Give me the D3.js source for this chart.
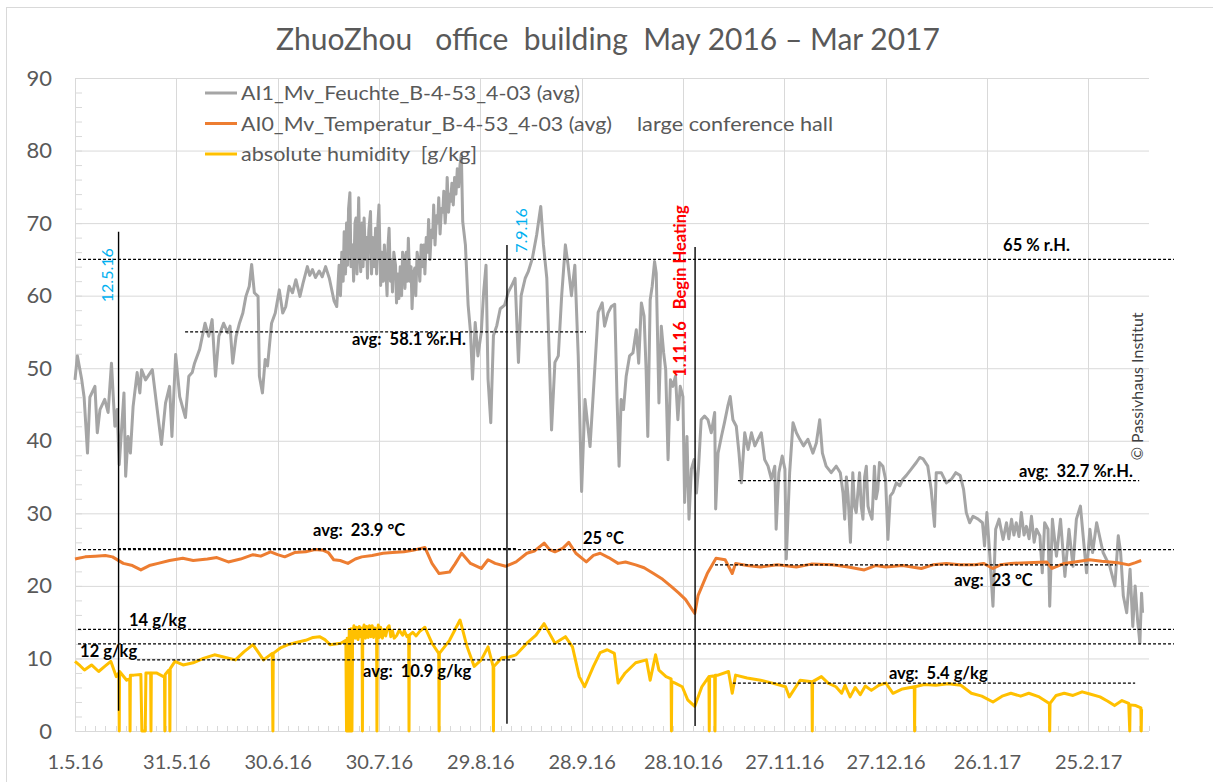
<!DOCTYPE html>
<html>
<head>
<meta charset="utf-8">
<script src="https://cdn.jsdelivr.net/npm/d3@7"></script>
<style>
  body { margin: 0; background: #fff; }
  text { font-family: Lato, "Open Sans", sans-serif; }
</style>
</head>
<body>
<div id="chart"></div>
<script>
// days since 1.5.16, value
var relHumidity = [
  [0,48.4],[0.7,51.7],[2,48.4],[2.7,46],[3.7,38.3],[4.4,46],[5.9,47.5],[6.6,41.1],[7.4,44.3],[8.8,45.7],
  [9.8,43.9],[10.8,50.7],[11.8,42],[12.5,44.3],[13.1,36.7],[14.5,46.6],[15,35.1],[15.7,40.6],[16.4,38.3],
  [17.2,44.7],[18.4,49.4],[19.2,46.6],[19.7,49.8],[20.9,48.4],[22.9,49.8],[24.1,45.2],[25.6,39.5],[26.8,45.2],
  [28,47.5],[28.7,40.6],[29.8,51.9],[31,46.1],[31.8,44.7],[32.7,43.2],[33.7,48.9],[34.7,49.4],[35.4,50.7],
  [36.9,52.6],[38.5,56.2],[39.6,54.4],[40.6,56.7],[41.6,48.9],[42.6,54.4],[44,56.2],[45.2,54.9],[45.9,55.8],
  [46.7,50.7],[47.7,54.4],[48.7,56.2],[49.7,57.6],[50.6,59.9],[51.6,61.3],[52.3,64.3],[53.1,60.4],[54.2,59.9],
  [54.6,48.9],[55.5,46.6],[56.3,51.2],[57,50.3],[58.2,56.2],[59.3,57.6],[60.5,60.8],[61.5,57.6],[62.4,58.5],
  [63.4,61.3],[64.4,60.4],[65.4,62.2],[66.6,59.9],[67.5,61.7],[68.8,64],[69.5,62.8],[70.3,63.6],[71.2,62.5],
  [72.3,63.4],[73.2,62.6],[74.2,64],[75.3,62.4],[76.7,59.3],[77.5,58.5],
  [78.2,64.2],[78.6,60],[79,66],[79.4,62],[79.7,68.8],[80.1,63],[80.4,70],[80.7,64.2],[81,72],[81.4,74.2],
  [81.7,64],[82.2,67],[82.5,62],[82.9,70],[83.2,70.7],[83.5,63],[84,73.5],[84.3,66],[84.6,63.3],[85,70],
  [85.3,64],[85.6,70.7],[86,65],[86.3,68],[86.6,62.4],[87,69],[87.5,71.6],[87.8,63],[88.2,68],[88.6,64],
  [89,69.3],[89.3,63],[89.7,70],[90,72.5],[90.5,61.4],[90.9,66],[91.3,62],[91.6,67],[92,64.2],[92.4,60],
  [92.7,67],[93,69.3],[93.4,62],[93.7,65],[94,60.5],[94.4,66],[94.9,64.2],[95.2,59],[95.6,63],[95.9,59.6],
  [96.3,64],[96.7,60],[97,66],[97.4,65.1],[97.7,61],[98.1,66],[98.4,62],[98.7,67.9],[99.1,62],[99.5,64],
  [99.8,58.2],[100.2,63],[100.6,63.8],[100.9,60],[101.3,66],[101.8,64.2],[102.1,62],[102.5,67],[102.9,64],
  [103.3,67],[103.6,63],[104,68],[104.4,66],[104.7,70.5],[105.1,65],[105.5,69],[105.9,68],[106.2,72.5],
  [106.6,67],[107,71],[107.4,70],[107.7,73.5],[108.1,68.5],[108.5,72],[108.9,71.5],[109.2,74.4],[109.6,70],
  [110,73],[110.2,76.3],[110.6,71.5],[111,74],[111.2,73],[111.6,75.5],[112,72.5],[112.4,76.3],[112.8,74],
  [113.2,77.5],[113.6,75],[114,78],[114.4,79.5],[114.8,70.2],[115.6,67],[116.4,58.7],[117.1,55],[117.7,48.5],
  [118.5,56.3],[119.3,51.7],[120.3,55],[121,60.5],[121.7,64.2],[122.3,48.5],[123.1,42.5],[123.9,54.5],
  [124.9,55.9],[125.9,58.2],[127.2,58.7],[128.3,60.5],[129.3,61.4],[130.3,62.4],[131.3,50.8],[132.1,60],
  [133.3,62.4],[134.2,63.3],[135.4,65.1],[136.7,68.4],[137.9,72.3],[138.7,67],[139.7,62.4],[141.1,41.5],
  [142.1,50.8],[143.1,51.7],[144.1,60],[145.2,67],[146,64.2],[147,60],[148,64.2],[149,51.7],[150,33],
  [151,45.7],[152.5,39.2],[153.9,49.9],[154.9,57.7],[156.1,59],[156.8,55.8],[157.8,57.6],[158.8,58.5],
  [159.8,58.8],[160.5,45.7],[161.1,36.5],[161.7,45.7],[162.4,44.3],[163.2,48.9],[164.2,51.7],[165.2,52.1],
  [166.2,55.3],[166.9,50.7],[167.7,59],[168.5,57.2],[169.1,49.8],[169.6,40.6],[170.3,59.4],[170.9,61.3],
  [171.6,64.7],[172.1,63.1],[172.9,45.2],[173.6,55.8],[174.3,52.1],[174.9,49.8],[175.6,37.4],[176.3,48.4],
  [177,47.5],[177.8,48.9],[178.5,42.9],[179.2,47.5],[180,46.1],[180.5,31.5],[181.2,40.6],[181.8,29.2],
  [182.5,36.1],[183.3,37.4],[184,32.8],[184.6,36.1],[185.4,42.9],[186.4,43.4],[187.4,42.9],[188.4,41.1],
  [189.4,43.9],[189.7,30.6],[190.4,38.3],[191.4,40.6],[192.3,42.5],[193.3,44.8],[194,46.1],[194.8,42.9],
  [195.8,42],[196.6,38.3],[197.3,34.2],[198.3,41.1],[199.3,38.8],[200.3,41.1],[201.3,39.3],[202.2,40.2],
  [203.2,41.1],[204.2,37.4],[205.2,36.5],[206.2,34.7],[207.2,36.5],[207.6,27.8],[208.4,35.6],[209.4,37.9],
  [210.2,36.1],[210.6,23.7],[211.6,35.6],[212.6,42.5],[213.6,41.1],[214.6,40.2],[215.7,39.3],[217,40.2],
  [218.5,38.3],[219.5,39.7],[220.5,42.9],[221.3,38.3],[222.4,36.5],[223.9,35.6],[225.4,36.5],[226.6,35.6],
  [227.4,32.8],[227.9,29.2],[228.4,35],[228.9,32.4],[229.6,26],[230.3,35.6],[230.8,31],[231.3,30.1],
  [232.3,35.6],[232.8,31],[233.3,29.2],[233.8,35],[234.3,36.5],[234.8,31],[235.3,30.1],[236,29.2],
  [236.7,36.5],[237.2,32],[237.7,33.3],[238.2,37],[239.2,36.5],[240,34.7],[240.7,26.4],[241.4,32.4],
  [242.2,32.9],[243.2,34.2],[244.2,33.8],[245.1,34.7],[246.1,35.2],[247.6,36.1],[249.1,37],[250.1,37.7],
  [251.1,37.5],[252.5,36.5],[253.5,33.3],[254.5,28.2],[255,35.6],[256.5,35.6],[258,34.2],[259.5,34.7],
  [260.8,35.6],[262.1,35.2],[263.1,33.3],[263.9,30.1],[264.9,28.7],[265.9,29.6],[267.4,29.2],[268.7,28.7],
  [269.3,25.5],[270,30.1],[271,23.2],[271.8,17.2],[272.6,27.8],[273.6,29.2],[274.8,26.4],[275.8,28.7],
  [276.5,26.5],[277.3,29.2],[278,27],[278.7,28.7],[279.5,26.8],[280.2,30.1],[281,27],[281.7,28.2],
  [282.5,26.5],[283.2,29.6],[284,26],[284.7,27.8],[285.7,26.9],[286.4,21.8],[287.1,28.7],[288.1,27.8],
  [288.6,17.2],[289.4,29.2],[290.6,24.1],[291.8,29.2],[293.1,21.3],[294.3,27.8],[295.5,22.7],[296.5,29.2],
  [297.7,31],[298.5,26.9],[299.5,21.8],[300.5,27.8],[301.3,24.6],[302.5,28.7],[304.4,24.6],[306.4,22.7],
  [307.9,20],[308.9,26.9],[309.6,24.6],[310.4,18.6],[311.4,16.3],[312.4,22.3],[313.2,14.4],[313.9,20],
  [314.6,15.4],[315.3,12.1],[315.8,19],[316.1,16.3]
];

var temperature = [
  [0,23.7],[3,24],[6,24.1],[9,24.2],[11.1,24],[14.3,23.1],[17,22.8],[19.5,22.2],[22,22.8],[24.6,23.1],
  [28,23.5],[31.9,23.8],[35,23.5],[39.2,23.7],[42,23.9],[45.4,23.3],[49,23.7],[52.7,24.3],[55,24.1],
  [57.9,24.7],[60,24.3],[62.1,24],[65,24.6],[68.3,24.7],[71,25],[73.5,24.9],[75,24.6],[76.6,23.6],
  [78.5,23.5],[80.8,23.1],[83,23.7],[84.9,24],[88,24.2],[91.2,24.5],[94,24.6],[97.4,24.7],[100,24.9],
  [103.6,25.3],[105.7,23.1],[107.8,21.7],[110.9,21.9],[112.5,23],[114.5,24.5],[117.1,23.1],[120.3,22.4],
  [122.3,23.6],[124.4,23.1],[127.5,22.7],[130.6,23.3],[133.8,24.5],[136,24.8],[138.9,25.9],[140.5,25],
  [142.1,24.7],[144.5,25.2],[146.2,26],[148.3,24.5],[151.4,23.3],[153.5,24.2],[155.5,24.5],[158,23.9],
  [160.8,23.1],[163,23.3],[166,22.9],[168.5,22.5],[171.3,21.7],[174,20.9],[176.6,19.9],[178.8,19],
  [180.8,18.1],[183.5,16.2],[184.5,18.7],[187.2,21.7],[189.8,23.8],[192.5,23.6],[194.6,21.7],[195.6,23.1],
  [199,22.8],[203,22.6],[208,22.9],[213.6,22.6],[218,23],[224.2,22.9],[229,22.6],[233.7,22.2],[237,22.8],
  [240.1,22.6],[245,22.8],[250.6,22.4],[254,22.9],[258,23.1],[262,22.9],[266.5,22.9],[269,23.1],[271.8,22.4],
  [274,22.9],[277.1,23.1],[282,23.2],[287.7,23.3],[289.3,22.4],[292.9,23.1],[296,23.3],[300.4,23.6],
  [304,23.4],[308.8,23.2],[312,22.9],[314,23.2],[315.7,23.5]
];

var absHumidity = [
  [0,9.6],[1.5,9],[2.8,8.4],[4.9,9.1],[7,8.2],[8.8,8.9],[10.6,9.6],[12.2,7.5],[13,8],[13.1,0],[13.2,8.2],
  [15.3,7],[16.2,7.2],[16.3,0],[16.4,7.7],[17.4,7.7],[19.5,7.8],[19.8,0],[20.8,0],[21,8],[22.4,8],[22.5,0],
  [22.6,8],[24.1,8],[26.2,7.5],[26.5,7.5],[26.6,0],[26.7,7.8],[27.8,8.4],[28,8.4],[28.1,0],[28.2,8.6],
  [29.6,9.6],[32,9.1],[35,9.4],[38,10],[41.3,10.5],[44,10.2],[47.5,9.8],[50,10.9],[52.7,11.9],[55.8,9.8],
  [58.4,10.7],[58.6,0],[58.7,10.7],[61,11.5],[63.1,11.9],[65.5,12.2],[68.3,12.5],[70.5,12.9],[72.4,13],
  [74,12.6],[75.5,11.9],[78.7,12.1],[80.2,12.5],[80.4,0],[80.6,12.8],[81,0],[81.2,14],[81.6,0],[81.8,14.1],
  [82,0],[82.2,13.5],[82.6,14.5],[83,12.8],[83.4,14.3],[83.8,12.6],[84.2,14.4],[84.6,13],[85,14.2],[85.1,0],
  [85.2,13.6],[85.6,14.6],[86,12.8],[86.4,14.4],[86.8,12.9],[87.2,14.5],[87.6,13],[88,14.5],[88.4,12.9],
  [88.8,14.2],[89.3,13.8],[89.4,0],[89.5,13.5],[89.8,14.6],[90.1,12.9],[90.5,14.3],[91,12.8],[91.5,14],
  [92,13.1],[92.5,14.2],[93,14.5],[93.5,13],[94,13.8],[94.5,12.8],[95.3,13.2],[96,13.9],[97,13.2],
  [97.5,13.8],[98.3,13],[98.8,13.2],[98.9,0],[99,13.2],[100,13.6],[101,13.1],[102,13.7],[103.6,14.3],
  [105.7,12.1],[107.7,10.7],[107.8,0],[107.9,10.7],[110.9,12.5],[114,15.3],[116.1,11.6],[118.2,8.9],
  [120.3,9.8],[122.3,11.6],[123.8,8.9],[123.9,0],[124,8.9],[126.4,10.1],[128.5,10.2],[130.6,10.5],
  [133.8,12.1],[136.5,13.2],[138.9,14.8],[142.1,12.1],[145.2,13],[147.3,11.6],[149.3,7.5],[150.9,6.1],
  [153.5,8.9],[155.5,10.8],[157.6,11.2],[159.7,10.7],[160.8,6.6],[162.9,8],[166,9.4],[169.2,9.8],[170.3,7],
  [171.9,10.5],[172.9,8.4],[175,7.5],[176.5,7.2],[176.6,0],[176.7,6.8],[177.7,6.6],[179.8,6.1],[181.4,4.3],
  [183.5,3.4],[185.6,6.1],[187.7,7.5],[187.8,0],[187.9,7.5],[189.4,7.6],[189.5,0],[189.6,7.7],[190.4,7.7],
  [193.5,8.2],[194.6,5.2],[195.6,7.7],[199,7.3],[203,7],[206.5,6.6],[210.4,6.1],[211.5,4.7],[214.7,7],
  [218.2,6.8],[218.3,0],[218.4,6.8],[221,7.5],[223,6.6],[225.3,6.1],[227,5.2],[228,6.3],[229.5,4.7],
  [231,6],[232.5,5],[234,6.2],[235.8,5.6],[238,6.3],[240.1,6.6],[242.2,5.2],[245,5.8],[248.5,6.1],
  [248.6,0],[248.7,6.1],[251.5,6.4],[254.9,6.3],[258.5,6.5],[262.3,6.3],[265.4,5.2],[268.5,4.8],[271.8,4],
  [274.5,4.8],[277.1,5.2],[280,4.8],[282.4,5.2],[285.5,4.7],[288.5,3.8],[288.6,0],[288.7,3.8],[290.5,4.9],
  [292.9,5.2],[295.5,4.9],[298.2,5.4],[300.5,5.1],[303.5,4.7],[305.8,4.1],[307.8,3.5],[310,4.2],[312,3.8],
  [312.3,0],[312.4,3.6],[314.1,3.5],[315.6,3.2],[315.7,0],[315.8,3]
];

var seriesNames = [
  "AI1_Mv_Feuchte_B-4-53_4-03 (avg)",
  "AI0_Mv_Temperatur_B-4-53_4-03 (avg)",
  "absolute humidity  [g/kg]"
];
var seriesColors = ["#a5a5a5", "#ed7d31", "#ffc000"];

var xTickLabels = ["1.5.16", "31.5.16", "30.6.16", "30.7.16", "29.8.16", "28.9.16",
                   "28.10.16", "27.11.16", "27.12.16", "26.1.17", "25.2.17"];
var yTicks = [0, 10, 20, 30, 40, 50, 60, 70, 80, 90];

// reference lines: value, from day, to day
var refLines = [
  [65, 0.9, 325.4], [55, 32.6, 151.3], [34.5, 196.3, 315.1],
  [25, 0.9, 325.4], [25.15, 12.7, 130.6], [22.9, 189.5, 308.3],
  [14, 0.9, 325.4], [12, 0.9, 325.4], [9.8, 18.4, 130.9], [6.6, 194.8, 313.9]
];
var refTexts = [
  ["avg:  58.1 %r.H.", 82.0, 53.2], ["65 % r.H.", 274.8, 66.2], ["avg:  32.7 %r.H.", 279.5, 35.0],
  ["avg:  23.9 °C", 70.5, 26.9], ["25 °C", 150.4, 25.8], ["avg:  23 °C", 260.3, 20.0],
  ["14 g/kg", 16.0, 14.5], ["12 g/kg", 1.5, 10.2], ["avg:  10.9 g/kg", 85.3, 7.4], ["avg:  5.4 g/kg", 241.0, 7.2]
];
// event markers: day, top, bottom
var markerLines = [[12.9, 68.8, 2.8], [127.9, 67, 1], [183.6, 66.7, 0.7]];
var markerTexts = [
  ["12.5.16", 9.6, 59.1, "#00b0f0", "normal"],
  ["7.9.16", 132.1, 65.9, "#00b0f0", "normal"],
  ["1.11.16   Begin Heating", 179.2, 48.8, "#ff0000", "bold"],
  ["© Passivhaus Institut", 314.5, 37.3, "#404040", "normal"]
];

var W = 1213, H = 782;
var margin = { left: 75, right: 64, top: 78, bottom: 51 };
var start = Date.UTC(2016, 4, 1), DAY = 864e5;
function toDate(d) { return new Date(start + d * DAY); }

var svg = d3.select("#chart").append("svg")
  .attr("width", W).attr("height", H)
  .style("background", "#fff");

svg.append("rect")
  .attr("x", 6.5).attr("y", 7.5).attr("width", 1300).attr("height", 900)
  .attr("fill", "none").attr("stroke", "#d9d9d9");

var x = d3.scaleUtc()
  .domain([toDate(0), toDate(318)])
  .range([margin.left, W - margin.right]);
var y = d3.scaleLinear()
  .domain([0, 90])
  .range([H - margin.bottom, margin.top]);

var tickDates = xTickLabels.map(function (d, i) { return toDate(i * 30); });

// gridlines
svg.append("g").selectAll("line").data(yTicks).enter().append("line")
  .attr("x1", x.range()[0]).attr("x2", x.range()[1])
  .attr("y1", function (d) { return y(d) + 0.5; }).attr("y2", function (d) { return y(d) + 0.5; })
  .attr("stroke", "#d9d9d9");
svg.append("g").selectAll("line").data(tickDates).enter().append("line")
  .attr("x1", function (d) { return Math.round(x(d)) + 0.5; })
  .attr("x2", function (d) { return Math.round(x(d)) + 0.5; })
  .attr("y1", y(90)).attr("y2", y(0))
  .attr("stroke", "#d9d9d9");

// minor ticks
svg.append("g").selectAll("line").data(d3.range(0, 91, 2)).enter().append("line")
  .attr("x1", margin.left).attr("x2", margin.left + 7)
  .attr("y1", function (d) { return y(d) + 0.5; }).attr("y2", function (d) { return y(d) + 0.5; })
  .attr("stroke", "#d9d9d9");
svg.append("g").selectAll("line").data(d3.range(0, 319, 3)).enter().append("line")
  .attr("x1", function (d) { return Math.round(x(toDate(d))) + 0.5; })
  .attr("x2", function (d) { return Math.round(x(toDate(d))) + 0.5; })
  .attr("y1", y(0)).attr("y2", y(0) - 5)
  .attr("stroke", "#d9d9d9");

// axes
var yAxis = svg.append("g")
  .attr("transform", "translate(" + margin.left + ",0)")
  .call(d3.axisLeft(y).tickValues(yTicks).tickSize(0).tickPadding(23));
yAxis.select(".domain").remove();
yAxis.selectAll("text").style("font-size", "22px").attr("fill", "#595959");

var xAxis = svg.append("g")
  .attr("transform", "translate(0," + y(0) + ")")
  .call(d3.axisBottom(x).tickValues(tickDates).tickSize(0).tickPadding(24)
    .tickFormat(function (d, i) { return xTickLabels[i]; }));
xAxis.select(".domain").remove();
xAxis.selectAll("text").style("font-size", "20px").attr("fill", "#595959");

// series
var line = d3.line()
  .x(function (d) { return x(toDate(d[0])); })
  .y(function (d) { return y(d[1]); });

[relHumidity, temperature, absHumidity].forEach(function (s, i) {
  svg.append("path")
    .datum(s)
    .attr("d", line)
    .attr("fill", "none")
    .attr("stroke", seriesColors[i])
    .attr("stroke-width", 3)
    .attr("stroke-linejoin", "round");
});

// reference lines
svg.append("g").selectAll("line").data(refLines).enter().append("line")
  .attr("x1", function (d) { return x(toDate(d[1])); })
  .attr("x2", function (d) { return x(toDate(d[2])); })
  .attr("y1", function (d) { return y(d[0]); })
  .attr("y2", function (d) { return y(d[0]); })
  .attr("stroke", "#000").attr("stroke-width", 1.2)
  .attr("stroke-dasharray", "3,2");

svg.append("g").selectAll("line").data(markerLines).enter().append("line")
  .attr("x1", function (d) { return x(toDate(d[0])); })
  .attr("x2", function (d) { return x(toDate(d[0])); })
  .attr("y1", function (d) { return y(d[1]); })
  .attr("y2", function (d) { return y(d[2]); })
  .attr("stroke", "#000").attr("stroke-width", 1.4);

svg.append("g").selectAll("text").data(refTexts).enter().append("text")
  .attr("x", function (d) { return x(toDate(d[1])); })
  .attr("y", function (d) { return y(d[2]); })
  .style("white-space", "pre")
  .style("font-size", "16.5px").style("font-weight", "bold")
  .attr("fill", "#000")
  .text(function (d) { return d[0]; });

svg.append("g").selectAll("text").data(markerTexts).enter().append("text")
  .attr("transform", function (d) {
    return "translate(" + x(toDate(d[1])) + "," + y(d[2]) + ") rotate(-90)";
  })
  .attr("dy", "0.35em")
  .style("white-space", "pre")
  .style("font-size", function (d) { return d[4] == "bold" ? "16.5px" : "16px"; })
  .style("font-weight", function (d) { return d[4]; })
  .attr("fill", function (d) { return d[3]; })
  .text(function (d) { return d[0]; });

// legend
var legendWidths = [339, 371, 236];
var legend = svg.append("g").attr("transform", "translate(205,93)");
seriesNames.forEach(function (name, i) {
  var row = legend.append("g").attr("transform", "translate(0," + (i * 30.5) + ")");
  row.append("line")
    .attr("x1", 0).attr("x2", 32)
    .attr("stroke", seriesColors[i]).attr("stroke-width", 3);
  row.append("text")
    .attr("x", 36).attr("dy", "0.35em")
    .style("white-space", "pre")
    .style("font-size", "20px").attr("fill", "#595959")
    .attr("textLength", legendWidths[i]).attr("lengthAdjust", "spacingAndGlyphs")
    .text(name);
});
legend.append("text")
  .attr("x", 432).attr("y", 30.5).attr("dy", "0.35em")
  .style("font-size", "20px").attr("fill", "#595959")
  .attr("textLength", 196).attr("lengthAdjust", "spacingAndGlyphs")
  .text("large conference hall");

// title
svg.append("text")
  .attr("x", 608).attr("y", 50)
  .attr("text-anchor", "middle")
  .style("white-space", "pre")
  .style("font-size", "30px").attr("fill", "#595959")
  .text("ZhuoZhou   office  building  May 2016 – Mar 2017");
</script>
</body>
</html>
